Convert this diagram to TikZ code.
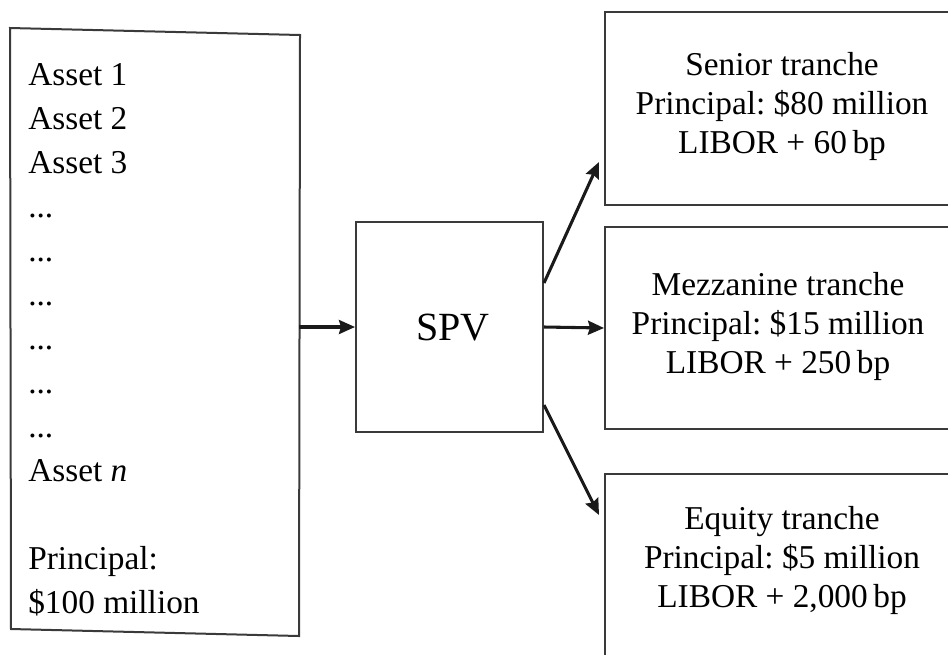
\documentclass[tikz,border=0pt]{standalone}
\usepackage{fontspec}
\setmainfont{Liberation Serif}
\usetikzlibrary{arrows.meta}
\frenchspacing
\definecolor{boxline}{HTML}{3A3A3A}
\definecolor{arrowline}{HTML}{1A1A1A}
\tikzset{
  boxnode/.style={draw=boxline, line width=1.5pt, rectangle, inner sep=0pt},
  txt/.style={font=\fontsize{25}{29.25}\selectfont, inner sep=0pt},
  flow/.style={draw=arrowline, line width=2.3pt, -{Stealth[length=12pt,width=10.5pt,inset=1.5pt]}}
}
\begin{document}
\begin{tikzpicture}[x=0.75pt,y=-0.75pt]
\useasboundingbox (0,0) rectangle (948,654);
% asset pool (slightly skewed outline)
\coordinate (ptl) at (10,28);
\coordinate (ptr) at (300,35);
\coordinate (pbr) at (299,636);
\coordinate (pbl) at (11,629);
\draw[boxline, line width=1.5pt, line join=miter] (ptl) -- (ptr) -- (pbr) -- (pbl) -- cycle;
\node[minimum width=216pt, minimum height=450pt, inner sep=0pt] (pool) at (154.5,332) {};
\node[txt, font=\fontsize{25}{33}\selectfont, align=left, anchor=base west] (pooltext) at (28,613)
  {Asset 1\\Asset 2\\Asset 3\\...\\...\\...\\...\\...\\...\\Asset \textit{n}\\[33pt]Principal:\\\$100 million};
% SPV
\node[boxnode, minimum width=140.25pt, minimum height=157.5pt] (spv) at (449.5,327) {};
\node[txt, font=\fontsize{30}{30}\selectfont, anchor=base] (spvtext) at (453,340) {SPV};
% tranches
\node[boxnode, minimum width=267.75pt, minimum height=144.75pt] (senior) at (783.5,108.5) {};
\node[boxnode, minimum width=267.75pt, minimum height=151.5pt] (mezz) at (783.5,328) {};
\node[boxnode, minimum width=267.75pt, minimum height=147pt] (equity) at (783.5,572) {};
\node[txt, align=center, anchor=base] (seniortext) at (782,153)
  {Senior tranche\\Principal: \$80 million\\LIBOR + 60\,bp};
\node[txt, align=center, anchor=base] (mezztext) at (778,373)
  {Mezzanine tranche\\Principal: \$15 million\\LIBOR + 250\,bp};
\node[txt, align=center, anchor=base] (equitytext) at (782,607)
  {Equity tranche\\Principal: \$5 million\\LIBOR + 2,000\,bp};
% connectors
\draw[flow] (pool.east |- spv.west) -- (spv.west);
\draw[flow] (spv.east) -- (mezz.west);
\coordinate (uptip) at (599,162);
\coordinate (downtip) at (599,515);
\draw[flow] (spv.east |- 0,283) -- (uptip);
\draw[flow] (spv.east |- 0,405) -- (downtip);
\end{tikzpicture}
\end{document}
